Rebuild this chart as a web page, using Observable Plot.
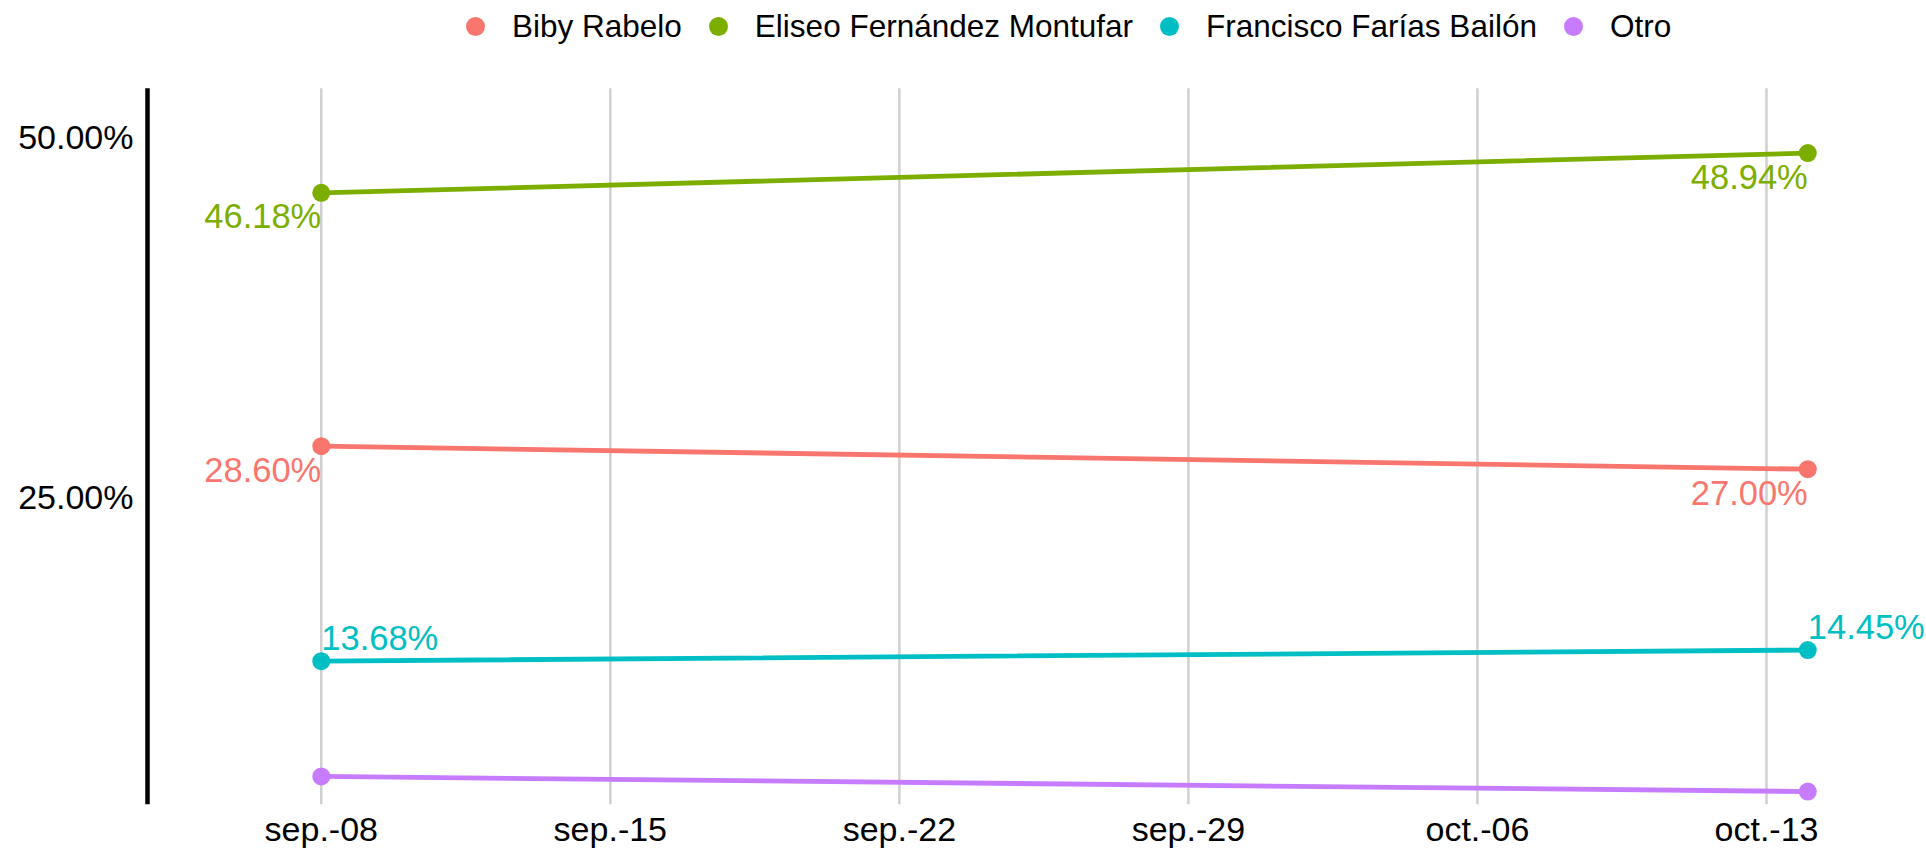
<!DOCTYPE html>
<html>
<head>
<meta charset="utf-8">
<script src="https://cdn.jsdelivr.net/npm/d3@7"></script>
<script src="https://cdn.jsdelivr.net/npm/@observablehq/plot@0.6"></script>
<style>
  html, body { margin: 0; padding: 0; background: #fff; }
  body { width: 1926px; height: 848px; overflow: hidden; font-family: "Liberation Sans", Arial, Helvetica, sans-serif; }
  #legend { height: 56px; display: flex; align-items: center; padding-left: 466px; padding-bottom: 4px; box-sizing: border-box; font-size: 31.5px; color: #000; }
  #legend .sw { width: 19px; height: 19px; border-radius: 50%; margin-right: 27px; flex: none; }
  #legend .lab { margin-right: 27px; white-space: nowrap; }
  #chart svg { display: block; }
</style>
</head>
<body>
<div id="legend"></div>
<div id="chart"></div>
<script>
// ---- data ----
const surveyDates = ["2019-09-08", "2019-10-14"];
const candidates = ["Biby Rabelo", "Eliseo Fernández Montufar", "Francisco Farías Bailón", "Otro"];
const bibyValues = [28.60, 27.00];
const eliseoValues = [46.18, 48.94];
const franciscoValues = [13.68, 14.45];
const otroValues = [5.68, 4.63];
const xTickDates = ["2019-09-08", "2019-09-15", "2019-09-22", "2019-09-29", "2019-10-06", "2019-10-13"];
const xTickLabels = ["sep.-08", "sep.-15", "sep.-22", "sep.-29", "oct.-06", "oct.-13"];
const yTickValues = [25, 50];
const yTickLabels = ["25.00%", "50.00%"];
const valueLabels = {
  "Biby Rabelo": ["28.60%", "27.00%"],
  "Eliseo Fernández Montufar": ["46.18%", "48.94%"],
  "Francisco Farías Bailón": ["13.68%", "14.45%"]
};

// ---- styles ----
const palette = ["#F8766D", "#7CAE00", "#00BFC4", "#C77CFF"];
const fontFamily = '"Liberation Sans", Arial, Helvetica, sans-serif';

const seriesValues = [bibyValues, eliseoValues, franciscoValues, otroValues];
const rows = [];
candidates.forEach((name, k) => {
  surveyDates.forEach((d, i) => {
    rows.push({name, date: new Date(d), value: seriesValues[k][i],
               label: valueLabels[name] ? valueLabels[name][i] : null});
  });
});
const below = rows.filter(r => r.label && r.name !== "Francisco Farías Bailón");
const above = rows.filter(r => r.label && r.name === "Francisco Farías Bailón");

const tickDates = xTickDates.map(d => new Date(d));
const tickLabelByTime = new Map(tickDates.map((d, i) => [+d, xTickLabels[i]]));
const yLabelByValue = new Map(yTickValues.map((v, i) => [v, yTickLabels[i]]));

const xDomain = [d3.utcHour.offset(new Date(surveyDates[0]), -101),
                 d3.utcHour.offset(new Date(surveyDates[surveyDates.length - 1]), 69)];

// ---- legend ----
const legend = document.getElementById("legend");
candidates.forEach((name, k) => {
  const sw = document.createElement("span");
  sw.className = "sw";
  sw.style.background = palette[k];
  const lab = document.createElement("span");
  lab.className = "lab";
  lab.textContent = name;
  legend.appendChild(sw);
  legend.appendChild(lab);
});

// ---- chart ----
const chart = Plot.plot({
  width: 1926,
  height: 792,
  marginLeft: 147,
  marginRight: 0,
  marginTop: 32.3,
  marginBottom: 43.7,
  style: {fontFamily, fontSize: "34px", color: "#000", background: "#fff"},
  x: {type: "utc", domain: xDomain},
  y: {domain: [3.71, 53.4]},
  color: {domain: candidates, range: palette},
  marks: [
    Plot.ruleX(tickDates, {stroke: "#d0d0d0", strokeWidth: 2.5}),
    Plot.ruleX([xDomain[0]], {stroke: "#000", strokeWidth: 4.5}),
    Plot.axisX({ticks: tickDates, tickFormat: d => tickLabelByTime.get(+d), tickSize: 0, tickPadding: 11.6, fontSize: 34, fill: "#000", label: null}),
    Plot.axisY({ticks: yTickValues, tickFormat: v => yLabelByValue.get(v), tickSize: 0, tickPadding: 14, fontSize: 34, fill: "#000", label: null}),
    Plot.line(rows, {x: "date", y: "value", z: "name", stroke: "name", strokeWidth: 4.8}),
    Plot.dot(rows, {x: "date", y: "value", fill: "name", r: 9}),
    Plot.text(below, {x: "date", y: "value", text: "label", fill: "name", textAnchor: "end", lineAnchor: "top", dy: 11, fontSize: 34.5}),
    Plot.text(above, {x: "date", y: "value", text: "label", fill: "name", textAnchor: "start", lineAnchor: "bottom", dy: -11, fontSize: 34.5})
  ]
});
document.getElementById("chart").appendChild(chart);
</script>
</body>
</html>
